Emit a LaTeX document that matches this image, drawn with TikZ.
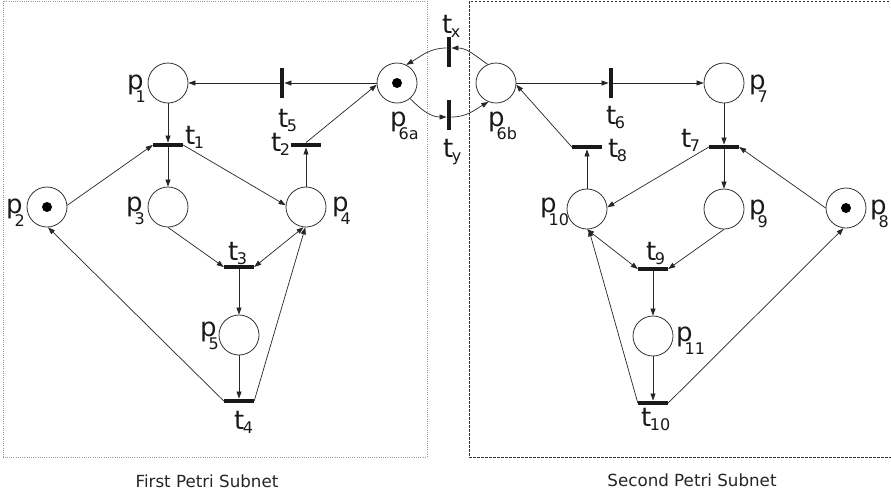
\documentclass[tikz,border=0pt]{standalone}
\usepackage{fontspec}
\setmainfont{DejaVu Sans}
\usetikzlibrary{arrows.meta}
\newcommand\Pn[1]{p\kern-8pt\raisebox{-13pt}{\fontsize{16}{16}\selectfont #1}}
\newcommand\Tn[1]{t\kern-1.5pt\raisebox{-4pt}{\fontsize{16}{16}\selectfont #1}}
\begin{document}
\begin{tikzpicture}[x=1pt,y=1pt,
 place/.style={circle,draw=black!80,line width=0.8pt,minimum size=40pt,inner sep=0pt},
 token/.style={place,path picture={\fill[black] (path picture bounding box.center) circle (5pt);}},
 htrans/.style={rectangle,fill=black!90,minimum width=30pt,minimum height=4.5pt,inner sep=0pt},
 vtrans/.style={rectangle,fill=black!90,minimum width=4.5pt,minimum height=30pt,inner sep=0pt},
 flow/.style={-{Triangle[length=7pt,width=5pt]},line width=0.7pt,draw=black!85},
 dflow/.style={{Triangle[length=7pt,width=5pt]}-{Triangle[length=7pt,width=5pt]},line width=0.7pt,draw=black!85},
 lab/.style={inner sep=0pt,anchor=base west,font=\fontsize{26}{26}\selectfont,text=black!90},
 capt/.style={inner sep=0pt,anchor=base,font=\fontsize{16.7}{17}\selectfont,text=black!85}]
\useasboundingbox (0,0) rectangle (891,-496);
\fill[white] (0,0) rectangle (891,-496);
% subnet frames
\draw[black!40,line width=0.7pt,dash pattern=on 1pt off 1.2pt] (3,-1) rectangle (427,-457);
\draw[black!80,line width=0.7pt,dash pattern=on 2.5pt off 1.5pt] (893,-1) -- (469,-1) -- (469,-457) -- (893,-457);
% places
\node[place] (p1) at (168,-83) {};
\node[token] (p2) at (47,-207) {};
\node[place] (p3) at (168,-207) {};
\node[place] (p4) at (306,-207) {};
\node[place] (p5) at (239,-335) {};
\node[token] (p6a) at (397,-83) {};
\node[place] (p6b) at (496,-83) {};
\node[place] (p7) at (724,-83) {};
\node[token] (p8) at (846,-208) {};
\node[place] (p9) at (724,-209) {};
\node[place] (p10) at (587,-209) {};
\node[place] (p11) at (653,-336) {};
% transitions
\node[htrans] (t1) at (168,-145) {};
\node[htrans] (t2) at (306,-145) {};
\node[htrans] (t3) at (239,-267) {};
\node[htrans] (t4) at (239,-401) {};
\node[vtrans] (t5) at (282,-83) {};
\node[vtrans] (tx) at (449,-52) {};
\node[vtrans] (ty) at (449,-115) {};
\node[vtrans] (t6) at (611,-83) {};
\node[htrans] (t7) at (724,-147) {};
\node[htrans] (t8) at (587,-147) {};
\node[htrans] (t9) at (653,-269) {};
\node[htrans] (t10) at (653,-403) {};
% labels
\node[lab] (lp1) at (127,-89) {\Pn{1}};
\node[lab] (lp2) at (6,-213) {\Pn{2}};
\node[lab] (lp3) at (126,-211) {\Pn{3}};
\node[lab] (lp4) at (332,-211) {\Pn{4}};
\node[lab] (lp5) at (200,-336) {\Pn{5}};
\node[lab] (lp6a) at (390,-126) {\Pn{6a}};
\node[lab] (lp6b) at (488,-126) {\Pn{6b}};
\node[lab] (lp7) at (749,-89) {\Pn{7}};
\node[lab] (lp8) at (870,-214) {\Pn{8}};
\node[lab] (lp9) at (749,-214) {\Pn{9}};
\node[lab] (lp10) at (540,-212) {\Pn{10}};
\node[lab] (lp11) at (676,-341) {\Pn{11}};
\node[lab] (lt1) at (185,-144) {\Tn{1}};
\node[lab] (lt2) at (271,-151) {\Tn{2}};
\node[lab] (lt3) at (228,-260) {\Tn{3}};
\node[lab] (lt4) at (234,-429) {\Tn{4}};
\node[lab] (lt5) at (278,-127) {\Tn{5}};
\node[lab] (ltx) at (442,-33) {\Tn{x}};
\node[lab] (lty) at (443,-157) {\Tn{y}};
\node[lab] (lt6) at (606,-124) {\Tn{6}};
\node[lab] (lt7) at (681,-147) {\Tn{7}};
\node[lab] (lt8) at (608,-157) {\Tn{8}};
\node[lab] (lt9) at (646,-260) {\Tn{9}};
\node[lab] (lt10) at (641,-426) {\Tn{10}};
\node[capt] (c1) at (207,-487) {First Petri Subnet};
\node[capt] (c2) at (692,-486) {Second Petri Subnet};
% arcs, first subnet
\draw[flow] (t5.west) -- (p1.east);
\draw[flow] (p6a.west) -- (t5.east);
\draw[flow] (p1.south) -- (t1.north);
\draw[flow] (p2.5) -- (t1.west);
\draw[flow] (t1.south) -- (p3.north);
\draw[flow] (t1.east) -- (p4.175);
\draw[flow] (p4.north) -- (t2.south);
\draw[flow] (t2.north) -- (p6a.185);
\draw[flow] (p3.south) -- (t3.west);
\draw[dflow] (t3.east) -- (p4.-97);
\draw[flow] (t4.east) -- (p4.-92);
\draw[flow] (t3.south) -- (p5.north);
\draw[flow] (p5.south) -- (t4.north);
\draw[flow] (t4.west) -- (p2.-87);
% interconnection
\draw[flow] (p6a.-50) to[out=-45,in=180] ([yshift=-2pt]ty.west);
\draw[flow] ([yshift=-2pt]ty.east) to[out=0,in=-150] (p6b.-112);
\draw[flow] (p6b.114) to[out=145,in=0] ([yshift=4pt]tx.east);
\draw[flow] ([yshift=4pt]tx.west) to[out=180,in=30] (p6a.63);
% arcs, second subnet
\draw[flow] (p6b.east) -- (t6.west);
\draw[flow] (t6.east) -- (p7.west);
\draw[flow] (p7.south) -- (t7.north);
\draw[flow] (t7.south) -- (p9.north);
\draw[flow] (t7.west) -- (p10.5);
\draw[flow] (p8.west) -- (t7.east);
\draw[flow] (p10.north) -- (t8.south);
\draw[flow] (t8.west) -- (p6b.-5);
\draw[dflow] (p10.-90) -- (t9.west);
\draw[flow] (p9.south) -- (t9.east);
\draw[flow] (t9.south) -- (p11.north);
\draw[flow] (p11.south) -- (t10.north);
\draw[flow] (t10.west) -- (p10.-85);
\draw[flow] (t10.east) -- (p8.-97);
\end{tikzpicture}
\end{document}
